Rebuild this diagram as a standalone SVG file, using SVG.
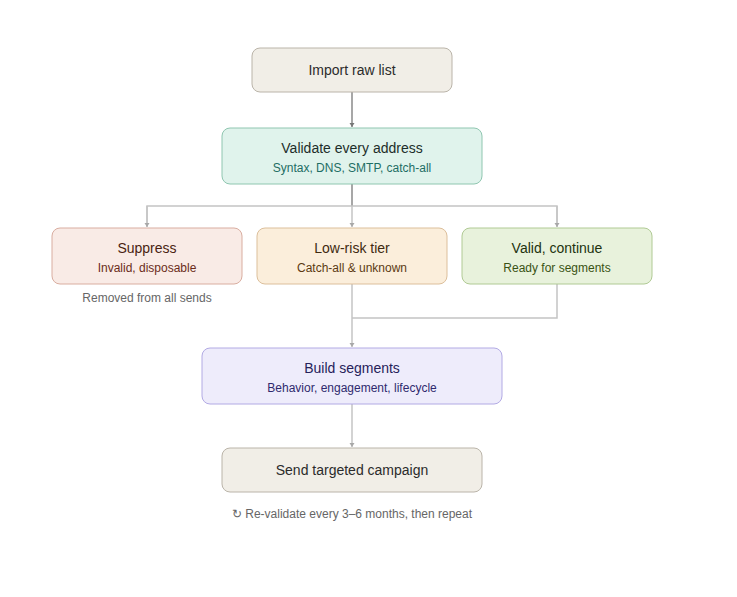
<svg xmlns="http://www.w3.org/2000/svg" width="737" height="597" viewBox="0 0 737 597">
<style>
.t{font-family:"Liberation Sans",Arial,sans-serif;font-size:14px;text-anchor:middle}
.s{font-family:"Liberation Sans",Arial,sans-serif;font-size:12px;text-anchor:middle}
.c{fill:none;stroke:#c4c4c4;stroke-width:1.5}
.cd{fill:none;stroke:#8a8a8a;stroke-width:1.5}
</style>
<defs>
<marker id="a" markerWidth="6" markerHeight="4" refX="3" refY="4" markerUnits="userSpaceOnUse" viewBox="0 0 6 4"><path d="M0.5,0 L5.5,0 L3,4 Z" fill="#a8a8a8"/></marker>
<marker id="ad" markerWidth="6" markerHeight="4" refX="3" refY="4" markerUnits="userSpaceOnUse" viewBox="0 0 6 4"><path d="M0.5,0 L5.5,0 L3,4 Z" fill="#777"/></marker>
</defs>
<rect width="737" height="597" fill="#fff"/>
<g id="connectors">
<path class="cd" d="M352,92 V127" marker-end="url(#ad)"/>
<path class="cd" d="M352,184 V206"/>
<path class="c" d="M147,227 V206 H557 V227"/>
<path class="c" d="M147,206 V227" marker-end="url(#a)"/>
<path class="c" d="M352,206 V227" marker-end="url(#a)"/>
<path class="c" d="M557,206 V227" marker-end="url(#a)"/>
<path class="c" d="M352,284 V347" marker-end="url(#a)"/>
<path class="c" d="M557,284 V318 H352"/>
<path class="c" d="M352,404 V447" marker-end="url(#a)"/>
</g>
<g id="import">
<rect x="252" y="48" width="200" height="44" rx="8" fill="#f1eee7" stroke="#bab4a9"/>
<text class="t" x="352" y="75" fill="#2b2b2b">Import raw list</text>
</g>
<g id="validate">
<rect x="222" y="128" width="260" height="56" rx="8" fill="#e0f3ec" stroke="#8fc6b0"/>
<text class="t" x="352" y="153" fill="#1d2e2a">Validate every address</text>
<text class="s" x="352" y="172" fill="#1e6e64">Syntax, DNS, SMTP, catch-all</text>
</g>
<g id="suppress">
<rect x="52" y="228" width="190" height="56" rx="8" fill="#f9ebe6" stroke="#d9ada0"/>
<text class="t" x="147" y="253" fill="#4a1f12">Suppress</text>
<text class="s" x="147" y="272" fill="#6b2b1a">Invalid, disposable</text>
<text class="s" x="147" y="302" fill="#666">Removed from all sends</text>
</g>
<g id="lowrisk">
<rect x="257" y="228" width="190" height="56" rx="8" fill="#fbeedb" stroke="#dcbf9b"/>
<text class="t" x="352" y="253" fill="#3f2a10">Low-risk tier</text>
<text class="s" x="352" y="272" fill="#5c3a12">Catch-all &amp; unknown</text>
</g>
<g id="valid">
<rect x="462" y="228" width="190" height="56" rx="8" fill="#e8f2dc" stroke="#b0ca94"/>
<text class="t" x="557" y="253" fill="#22330f">Valid, continue</text>
<text class="s" x="557" y="272" fill="#3a5214">Ready for segments</text>
</g>
<g id="segments">
<rect x="202" y="348" width="300" height="56" rx="8" fill="#eeecfb" stroke="#b2aae4"/>
<text class="t" x="352" y="373" fill="#26225a">Build segments</text>
<text class="s" x="352" y="392" fill="#2f2a6e">Behavior, engagement, lifecycle</text>
</g>
<g id="send">
<rect x="222" y="448" width="260" height="44" rx="8" fill="#f1eee7" stroke="#bab4a9"/>
<text class="t" x="352" y="475" fill="#2b2b2b">Send targeted campaign</text>
<text class="s" x="352" y="518" fill="#666">↻ Re-validate every 3–6 months, then repeat</text>
</g>
</svg>
